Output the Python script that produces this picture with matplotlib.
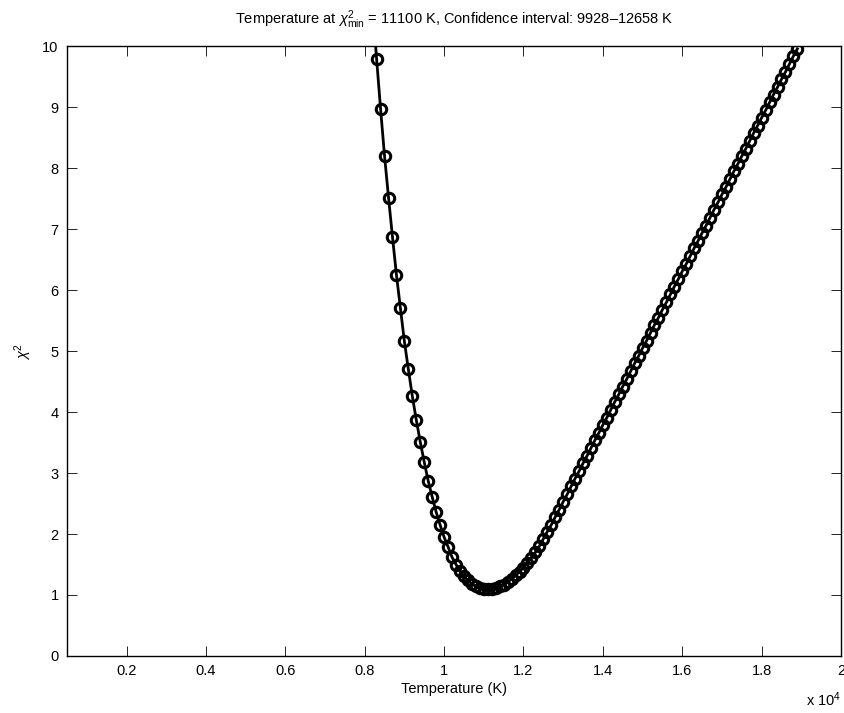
import matplotlib
matplotlib.use("Agg")
import matplotlib.pyplot as plt
from matplotlib.ticker import FuncFormatter

plt.rcParams["font.family"] = ["Liberation Sans", "DejaVu Sans"]
plt.rcParams["mathtext.fontset"] = "custom"
plt.rcParams["mathtext.rm"] = "Liberation Sans"
plt.rcParams["mathtext.it"] = "Liberation Sans:italic"

# temperature grid (K), one point every 100 K
temp_left = list(range(8200, 11200, 100))
chi_left = [10.68, 9.79, 8.97, 8.20, 7.52, 6.87, 6.25, 5.70, 5.16, 4.70,
            4.26, 3.87, 3.51, 3.18, 2.87, 2.61, 2.36, 2.15, 1.95, 1.79,
            1.62, 1.50, 1.40, 1.31, 1.24, 1.18, 1.14, 1.115, 1.10, 1.095]

temp_right = list(range(11200, 19000, 100))
chi_right = [1.10, 1.115, 1.14, 1.17, 1.21, 1.26, 1.32, 1.38, 1.45, 1.53,
             1.61, 1.70, 1.80, 1.92, 2.04,
             2.15, 2.28, 2.40, 2.53, 2.65, 2.78, 2.91, 3.03, 3.16, 3.28,
             3.41, 3.54, 3.66, 3.79, 3.91, 4.04, 4.17, 4.29, 4.42, 4.54,
             4.67, 4.80, 4.92, 5.05, 5.17, 5.30, 5.43, 5.55, 5.68, 5.80,
             5.93, 6.06, 6.18, 6.31, 6.43, 6.56, 6.69, 6.81, 6.94, 7.06,
             7.19, 7.32, 7.44, 7.57, 7.69, 7.82, 7.95, 8.07, 8.20, 8.32,
             8.45, 8.58, 8.70, 8.83, 8.95, 9.08, 9.21, 9.33, 9.46, 9.58,
             9.71, 9.84, 9.96]

temps = temp_left + temp_right
chi2 = chi_left + chi_right

t_min, ci_lo, ci_hi = 11100, 9928, 12658
xticks = [2000, 4000, 6000, 8000, 10000, 12000, 14000, 16000, 18000, 20000]
yticks = list(range(0, 11))

fig = plt.figure(figsize=(8.45, 7.13), dpi=100)
ax = fig.add_axes([0.0793, 0.080, 0.916, 0.855])

ax.plot(temps, chi2, color="black", lw=2.0, marker="o", markersize=7.5,
        markerfacecolor="none", markeredgewidth=2.2, clip_on=True)

ax.set_xlim(500, 20000)
ax.set_ylim(0, 10)
ax.set_xticks(xticks)
ax.set_yticks(yticks)
ax.xaxis.set_major_formatter(FuncFormatter(lambda v, p: f"{v / 1e4:g}"))
ax.tick_params(direction="in", length=7, width=0.6, top=True, right=True,
               labelsize=10.5, pad=6)
for s in ax.spines.values():
    s.set_linewidth(1.0)

ax.set_xlabel("Temperature (K)", fontsize=10.5, labelpad=3)
ax.set_ylabel(r"$\chi^2$", fontsize=10.5, labelpad=6)
ax.set_title(r"Temperature at $\chi^2_{\mathrm{min}}$" + f" = {t_min} K, Confidence interval: {ci_lo}\u2013{ci_hi} K",
             fontsize=10.5, pad=16)
fig.text(0.995, 0.006, r"x 10$^4$", ha="right", va="bottom", fontsize=10.5)

fig.savefig("out.png", dpi=100, facecolor="white")
